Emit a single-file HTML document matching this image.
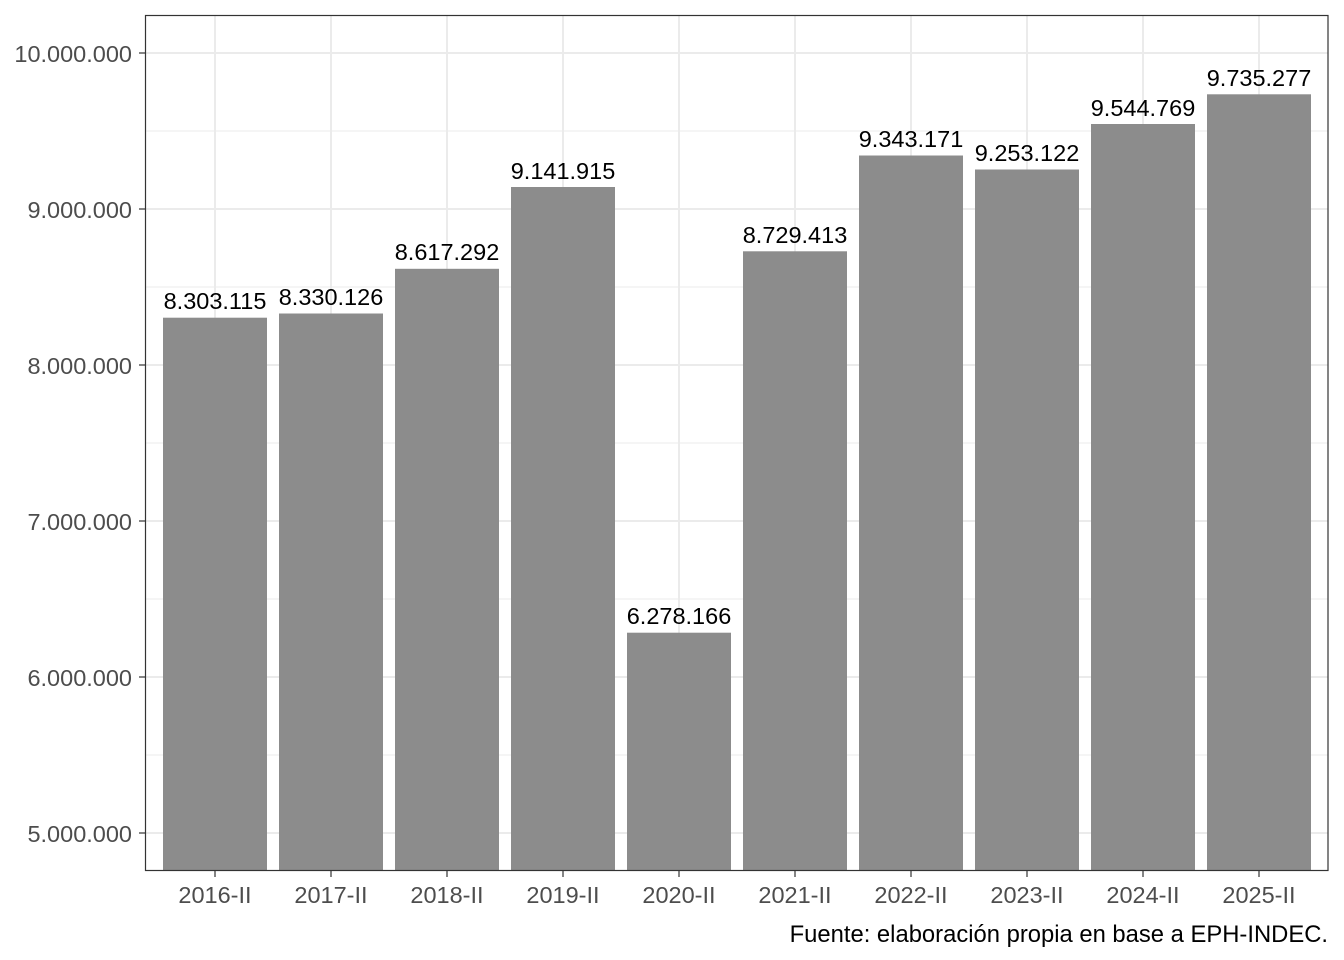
<!DOCTYPE html>
<html><head><meta charset="utf-8"><style>
body{margin:0;background:#fff}
svg{display:block;font-family:"Liberation Sans",Arial,sans-serif}
</style></head><body>
<svg width="1344" height="960" xmlns="http://www.w3.org/2000/svg">
<rect width="1344" height="960" fill="#fff"/>
<g stroke="#ebebeb" stroke-width="1">
<line x1="145" x2="1328" y1="131" y2="131"/><line x1="145" x2="1328" y1="287" y2="287"/>
<line x1="145" x2="1328" y1="443" y2="443"/><line x1="145" x2="1328" y1="599" y2="599"/>
<line x1="145" x2="1328" y1="755" y2="755"/>
</g>
<g stroke="#ebebeb" stroke-width="2">
<line x1="145" x2="1328" y1="53" y2="53"/><line x1="145" x2="1328" y1="209" y2="209"/>
<line x1="145" x2="1328" y1="365" y2="365"/><line x1="145" x2="1328" y1="521" y2="521"/>
<line x1="145" x2="1328" y1="677" y2="677"/><line x1="145" x2="1328" y1="833" y2="833"/>
<line x1="215" x2="215" y1="15" y2="870"/><line x1="331" x2="331" y1="15" y2="870"/>
<line x1="447" x2="447" y1="15" y2="870"/><line x1="563" x2="563" y1="15" y2="870"/>
<line x1="679" x2="679" y1="15" y2="870"/><line x1="795" x2="795" y1="15" y2="870"/>
<line x1="911" x2="911" y1="15" y2="870"/><line x1="1027" x2="1027" y1="15" y2="870"/>
<line x1="1143" x2="1143" y1="15" y2="870"/><line x1="1259" x2="1259" y1="15" y2="870"/>
</g>
<g fill="#8c8c8c">
<rect x="163" y="317.7" width="104" height="552.3"/>
<rect x="279" y="313.5" width="104" height="556.5"/>
<rect x="395" y="268.8" width="104" height="601.2"/>
<rect x="511" y="187.0" width="104" height="683"/>
<rect x="627" y="632.7" width="104" height="237.3"/>
<rect x="743" y="251.3" width="104" height="618.7"/>
<rect x="859" y="155.5" width="104" height="714.5"/>
<rect x="975" y="169.5" width="104" height="700.5"/>
<rect x="1091" y="124.0" width="104" height="746"/>
<rect x="1207" y="94.3" width="104" height="775.7"/>
</g>
<g font-size="23.5" fill="#000" text-anchor="middle">
<text x="215" y="309">8.303.115</text><text x="331" y="305">8.330.126</text>
<text x="447" y="260">8.617.292</text><text x="563" y="179">9.141.915</text>
<text x="679" y="624">6.278.166</text><text x="795" y="243">8.729.413</text>
<text x="911" y="147">9.343.171</text><text x="1027" y="161">9.253.122</text>
<text x="1143" y="116">9.544.769</text><text x="1259" y="86">9.735.277</text>
</g>
<rect x="145.5" y="15.5" width="1182.5" height="855" fill="none" stroke="#333" stroke-width="1.2"/>
<g stroke="#333" stroke-width="1.2">
<line x1="139" x2="145" y1="53" y2="53"/><line x1="139" x2="145" y1="209" y2="209"/>
<line x1="139" x2="145" y1="365" y2="365"/><line x1="139" x2="145" y1="521" y2="521"/>
<line x1="139" x2="145" y1="677" y2="677"/><line x1="139" x2="145" y1="833" y2="833"/>
<line x1="215" x2="215" y1="871" y2="877"/><line x1="331" x2="331" y1="871" y2="877"/>
<line x1="447" x2="447" y1="871" y2="877"/><line x1="563" x2="563" y1="871" y2="877"/>
<line x1="679" x2="679" y1="871" y2="877"/><line x1="795" x2="795" y1="871" y2="877"/>
<line x1="911" x2="911" y1="871" y2="877"/><line x1="1027" x2="1027" y1="871" y2="877"/>
<line x1="1143" x2="1143" y1="871" y2="877"/><line x1="1259" x2="1259" y1="871" y2="877"/>
</g>
<g font-size="23.5" fill="#4d4d4d" text-anchor="end">
<text x="132" y="62">10.000.000</text><text x="132" y="218">9.000.000</text>
<text x="132" y="374">8.000.000</text><text x="132" y="530">7.000.000</text>
<text x="132" y="686">6.000.000</text><text x="132" y="842">5.000.000</text>
</g>
<g font-size="23.5" fill="#4d4d4d" text-anchor="middle">
<text x="215" y="903">2016-II</text><text x="331" y="903">2017-II</text>
<text x="447" y="903">2018-II</text><text x="563" y="903">2019-II</text>
<text x="679" y="903">2020-II</text><text x="795" y="903">2021-II</text>
<text x="911" y="903">2022-II</text><text x="1027" y="903">2023-II</text>
<text x="1143" y="903">2024-II</text><text x="1259" y="903">2025-II</text>
</g>
<text x="1328" y="942" font-size="23.8" fill="#000" text-anchor="end">Fuente: elaboración propia en base a EPH-INDEC.</text>
</svg>
</body></html>
